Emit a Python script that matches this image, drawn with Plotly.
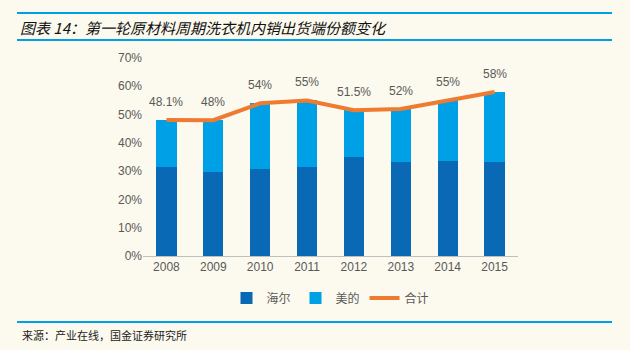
import plotly.graph_objects as go

years = ["2008", "2009", "2010", "2011", "2012", "2013", "2014", "2015"]
haier = [31.3, 29.8, 30.6, 31.4, 34.9, 33.2, 33.6, 33.2]
total = [48.1, 48.0, 54.0, 55.0, 51.5, 52.0, 55.0, 58.0]
total_labels = ["48.1%", "48%", "54%", "55%", "51.5%", "52%", "55%", "58%"]
midea = [round(t - h, 1) for t, h in zip(total, haier)]

BG = "#FCF9EE"
DARK = "#0A69B4"
LIGHT = "#00A0E6"
ORANGE = "#EE7B30"
GREY = "#595959"

W, H = 630, 350
L, R, T, B = 143, 112, 58, 94
pw, ph = W - L - R, H - T - B

def px(x):
    return (x - L) / pw

def py(y):
    return (H - B - y) / ph

fig = go.Figure()
fig.add_trace(go.Bar(x=years, y=haier, name="海尔", marker_color=DARK,
                     marker_line_width=0, width=0.43))
fig.add_trace(go.Bar(x=years, y=midea, name="美的", marker_color=LIGHT,
                     marker_line_width=0, width=0.43))
fig.add_trace(go.Scatter(x=years, y=total, name="合计", mode="lines",
                         line=dict(color=ORANGE, width=4)))

annots = [
    dict(x=i, y=v, xref="x", yref="y", text=lab, showarrow=False, yshift=18,
         font=dict(size=12, color=GREY, family="Liberation Sans, Arial"))
    for i, (v, lab) in enumerate(zip(total, total_labels))
]
annots += [
    dict(xref="paper", yref="paper", x=px(18), y=py(27), xanchor="left", yanchor="middle",
         text="<i>图表 14：第一轮原材料周期洗衣机内销出货端份额变化</i>",
         showarrow=False, font=dict(family="Noto Sans CJK SC", size=15, color="#111111")),
    dict(xref="paper", yref="paper", x=px(20), y=py(335), xanchor="left", yanchor="middle",
         text="来源：产业在线，国金证券研究所", showarrow=False,
         font=dict(family="Noto Sans CJK SC", size=11, color="#222222")),
]

fig.update_layout(
    width=W, height=H, barmode="stack",
    paper_bgcolor=BG, plot_bgcolor=BG,
    margin=dict(l=L, r=R, t=T, b=B),
    font=dict(family="Liberation Sans, Arial, Noto Sans CJK SC", color=GREY, size=12),
    showlegend=True,
    legend=dict(orientation="h", x=0.5, xanchor="center", y=py(298), yanchor="middle",
                font=dict(family="Noto Sans CJK SC", size=12, color=GREY),
                bgcolor="rgba(0,0,0,0)", traceorder="normal"),
    xaxis=dict(type="category", range=[-0.5, 7.5], showgrid=False, showline=True,
               linecolor="#BFBFBF", linewidth=1, ticks="", tickfont=dict(size=12, color=GREY)),
    yaxis=dict(range=[0, 70], dtick=10, ticksuffix="%", showgrid=False,
               showline=False, zeroline=False, tickfont=dict(size=12, color=GREY)),
    shapes=[
        dict(type="line", xref="paper", yref="paper", x0=px(17), x1=px(612),
             y0=py(13), y1=py(13), line=dict(color="#00A0E6", width=2)),
        dict(type="line", xref="paper", yref="paper", x0=px(17), x1=px(612),
             y0=py(40), y1=py(40), line=dict(color="#00A0E6", width=2)),
        dict(type="line", xref="paper", yref="paper", x0=px(17), x1=px(612),
             y0=py(322), y1=py(322), line=dict(color="#00A0E6", width=2)),
    ],
    annotations=annots,
)

fig.write_html("out.html")
